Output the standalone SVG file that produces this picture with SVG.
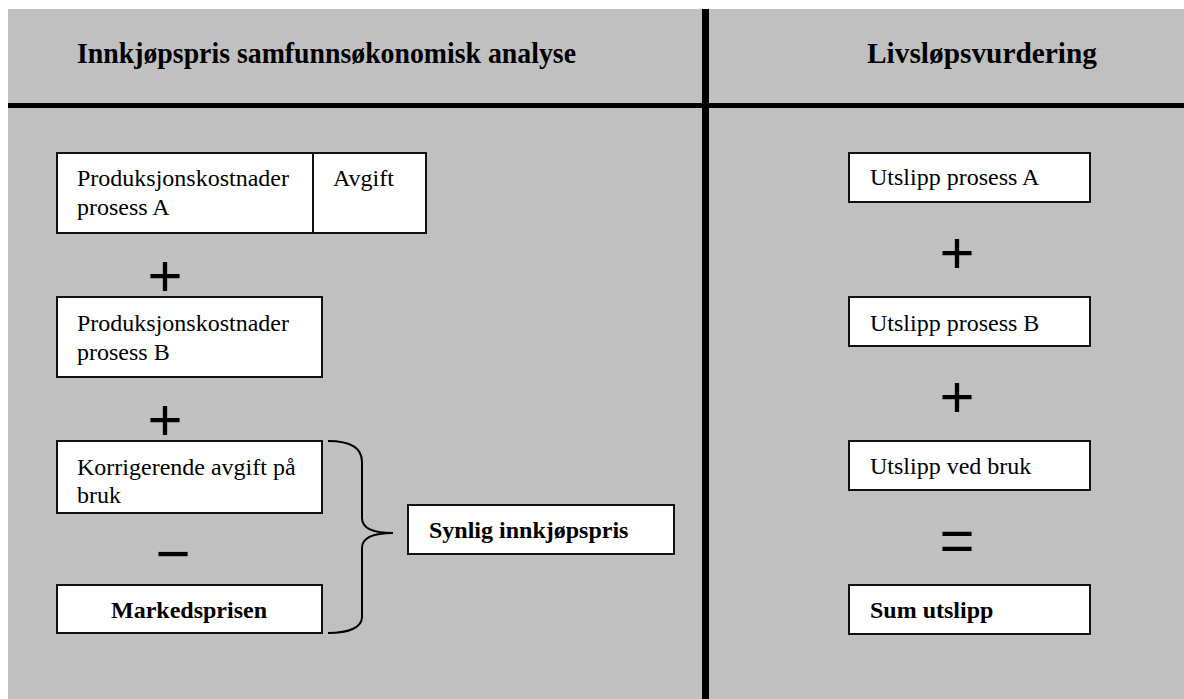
<svg xmlns="http://www.w3.org/2000/svg" width="1184" height="699" viewBox="0 0 1184 699">
<style>
.box{fill:#fff;stroke:#111;stroke-width:2}
.t{font-family:"Liberation Serif","Times New Roman",serif;font-size:24px;fill:#000}
.b{font-weight:bold}
.h{font-family:"Liberation Serif","Times New Roman",serif;font-size:29px;font-weight:bold;fill:#000}
.op{font-family:"Liberation Sans",Arial,sans-serif;font-size:60px;fill:#000;text-anchor:middle}
.sep{stroke:#000;fill:none}
</style>
<rect x="0" y="0" width="1184" height="699" fill="#fff"/>
<rect x="8" y="9" width="1176" height="690" fill="#c0c0c0"/>
<g id="frame">
<line class="sep" x1="8" y1="105.5" x2="1184" y2="105.5" stroke-width="5"/>
<line class="sep" x1="705.5" y1="9" x2="705.5" y2="699" stroke-width="7"/>
</g>
<g id="title-left"><text class="h" x="77" y="63" textLength="499" lengthAdjust="spacingAndGlyphs">Innkjøpspris samfunnsøkonomisk analyse</text></g>
<g id="title-right"><text class="h" x="867" y="63" textLength="230" lengthAdjust="spacingAndGlyphs">Livsløpsvurdering</text></g>

<g id="prodA"><rect class="box" x="57" y="153" width="256" height="80"/><text class="t" x="77" y="186">Produksjonskostnader</text><text class="t" x="77" y="215">prosess A</text></g>
<g id="avgift"><rect class="box" x="313" y="153" width="113" height="80"/><text class="t" x="333" y="186">Avgift</text></g>
<g id="plus1"><text class="op" x="165" y="296">+</text></g>
<g id="prodB"><rect class="box" x="57" y="297" width="265" height="80"/><text class="t" x="77" y="331">Produksjonskostnader</text><text class="t" x="77" y="360">prosess B</text></g>
<g id="plus2"><text class="op" x="165" y="440">+</text></g>
<g id="korr"><rect class="box" x="57" y="441" width="265" height="72"/><text class="t" x="77" y="475">Korrigerende avgift på</text><text class="t" x="77" y="503">bruk</text></g>
<g id="minus"><text class="op" x="173" y="574">−</text></g>
<g id="marked"><rect class="box" x="57" y="585" width="265" height="48"/><text class="t b" x="189" y="618" text-anchor="middle">Markedsprisen</text></g>
<g id="synlig"><rect class="box" x="408" y="505" width="266" height="49"/><text class="t b" x="429" y="538">Synlig innkjøpspris</text></g>

<g id="utA"><rect class="box" x="849" y="153" width="241" height="49"/><text class="t" x="870" y="185">Utslipp prosess A</text></g>
<g id="plus3"><text class="op" x="957" y="273">+</text></g>
<g id="utB"><rect class="box" x="849" y="297" width="241" height="49"/><text class="t" x="870" y="331">Utslipp prosess B</text></g>
<g id="plus4"><text class="op" x="957" y="417">+</text></g>
<g id="utC"><rect class="box" x="849" y="441" width="241" height="49"/><text class="t" x="870" y="474">Utslipp ved bruk</text></g>
<g id="equals"><text class="op" x="957" y="561">=</text></g>
<g id="sum"><rect class="box" x="849" y="585" width="241" height="49"/><text class="t b" x="870" y="618">Sum utslipp</text></g>

<g id="connectors">
<path d="M328 441 C350 441 362 448 362 462 L362 518 C362 528 372 533 393 533 C372 533 362 538 362 548 L362 617 C362 627 350 633 328 633" fill="none" stroke="#000" stroke-width="2"/>
</g>
</svg>
